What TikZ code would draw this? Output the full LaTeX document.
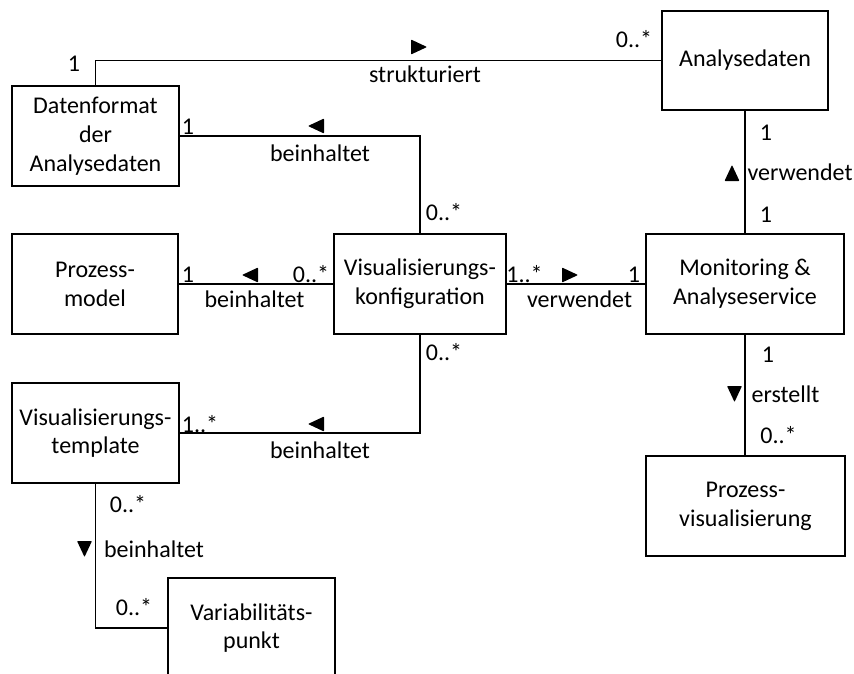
\documentclass[tikz,border=0pt]{standalone}
\usepackage{fontspec}
\setmainfont{Carlito}
\begin{document}
\begin{tikzpicture}[x=1pt,y=-1pt,
  every node/.style={font=\fontsize{24}{28.8}\selectfont},
  cls/.style={draw, line width=1.3pt, align=center, inner sep=0pt, minimum height=100pt},
  assoc/.style={line width=1.3pt},
  lbl/.style={anchor=base, inner sep=0pt},
  pics/dir/.style={code={\fill[rounded corners=0.8pt] (-8,-7.5) -- (8,0) -- (-8,7.5) -- cycle;}}
]
\clip (0,0) rectangle (854,673);

% classes
\node[cls, minimum width=167pt] (dfa) at (95.5,136) {Datenformat\\der\\Analysedaten};
\node[cls, minimum width=166pt, minimum height=99pt] (ad) at (745,60.5) {Analysedaten};
\node[cls, minimum width=166pt] (pm) at (95,284) {Prozess-\\model};
\node[cls, minimum width=172pt] (vk) at (420,284) {Visualisierungs-\\konfiguration};
\node[cls, minimum width=198pt] (mas) at (745,284) {Monitoring \&\\Analyseservice};
\node[cls, minimum width=167pt] (vt) at (95.5,433) {Visualisierungs-\\template};
\node[cls, minimum width=199pt] (pv) at (745.5,506) {Prozess-\\visualisierung};
\node[cls, minimum width=167pt] (vp) at (251.5,628) {Variabilitäts-\\punkt};

% associations
\draw[assoc] (dfa.north) |- (ad.west);
\draw[assoc] (dfa.east) -| (vk.north);
\draw[assoc] (pm.east) -- (vk.west);
\draw[assoc] (vk.east) -- (mas.west);
\draw[assoc] (ad.south) -- (mas.north);
\draw[assoc] (mas.south) -- (mas.south |- pv.north);
\draw[assoc] (vk.south) |- (vt.east);
\draw[assoc] (vt.south) |- (vp.west);

% strukturiert
\node[lbl] (m1) at (74,71) {1};
\pic at (419,47) {dir};
\node[lbl] (n1) at (425,82) {strukturiert};
\node[lbl] (m2) at (634,47) {0..*};

% beinhaltet (Datenformat)
\node[lbl] (m3) at (188,134) {1};
\pic[rotate=180] at (316,126) {dir};
\node[lbl] (n2) at (320,161) {beinhaltet};
\node[lbl] (m4) at (444,220) {0..*};

% verwendet (Analysedaten)
\node[lbl] (m5) at (766,140) {1};
\pic[rotate=90] at (732,173) {dir};
\node[lbl] (n3) at (800,180) {verwendet};
\node[lbl] (m6) at (766,222) {1};

% beinhaltet (Prozessmodel)
\node[lbl] (m7) at (188,282) {1};
\pic[rotate=180] at (250,275) {dir};
\node[lbl] (m8) at (311,282) {0..*};
\node[lbl] (n4) at (254.5,307) {beinhaltet};

% verwendet (Monitoring)
\node[lbl] (m9) at (524.5,282) {1..*};
\pic at (570,275) {dir};
\node[lbl] (m10) at (634,282) {1};
\node[lbl] (n5) at (579.5,307) {verwendet};

% beinhaltet (Template)
\node[lbl] (m11) at (444,360) {0..*};
\pic[rotate=180] at (316,424) {dir};
\node[lbl] (m12) at (200,432) {1..*};
\node[lbl] (n6) at (320,458) {beinhaltet};

% beinhaltet (Variabilitaetspunkt)
\node[lbl] (m13) at (128,512) {0..*};
\pic[rotate=-90] at (84.5,549) {dir};
\node[lbl] (n7) at (154,557) {beinhaltet};
\node[lbl] (m14) at (134,615) {0..*};

% erstellt
\node[lbl] (m15) at (768,362) {1};
\pic[rotate=-90] at (734.5,394) {dir};
\node[lbl] (n8) at (785.5,402) {erstellt};
\node[lbl] (m16) at (778.5,443) {0..*};
\end{tikzpicture}
\end{document}
